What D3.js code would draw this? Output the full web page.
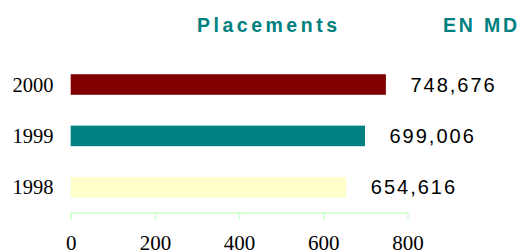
<!DOCTYPE html>
<html>
<head>
<meta charset="utf-8">
<script src="https://cdn.jsdelivr.net/npm/d3@7"></script>
<style>
  body { margin: 0; background: #fff; }
</style>
</head>
<body>
<div id="chart"></div>
<script>
var width = 519;
var height = 252;

// data (thousands)
var years = ["2000", "1999", "1998"];
var values = [748.676, 699.006, 654.616];
var valueLabels = ["748,676", "699,006", "654,616"];
var barColors = ["#800000", "#008080", "#ffffcc"];
var ticks = [0, 200, 400, 600, 800];

var x = d3.scaleLinear()
  .domain([0, 800])
  .range([70.7, 407.5]);

var y = d3.scaleBand()
  .domain(years)
  .range([43.4, 228.4])
  .padding(0.6);

var svg = d3.select("#chart")
  .append("svg")
  .attr("width", width)
  .attr("height", height);

// titles
svg.append("text")
  .attr("x", 197)
  .attr("y", 31.5)
  .attr("textLength", 140)
  .attr("lengthAdjust", "spacing")
  .attr("font-family", "Liberation Sans, Arial, sans-serif")
  .attr("font-weight", "bold")
  .attr("font-size", 19.5)
  .attr("fill", "#008080")
  .text("Placements");

svg.append("text")
  .attr("x", 443)
  .attr("y", 31.5)
  .attr("textLength", 74)
  .attr("lengthAdjust", "spacing")
  .attr("font-family", "Liberation Sans, Arial, sans-serif")
  .attr("font-weight", "bold")
  .attr("font-size", 19.5)
  .attr("fill", "#008080")
  .text("EN MD");

// bars
var rows = years.map(function(d, i) {
  return {year: d, value: values[i], label: valueLabels[i], color: barColors[i]};
});

svg.selectAll("rect.bar")
  .data(rows)
  .enter()
  .append("rect")
    .attr("class", "bar")
    .attr("x", x(0))
    .attr("y", function(d) { return y(d.year); })
    .attr("width", function(d) { return x(d.value) - x(0); })
    .attr("height", y.bandwidth())
    .attr("fill", function(d) { return d.color; });

// year labels
svg.selectAll("text.year")
  .data(rows)
  .enter()
  .append("text")
    .attr("class", "year")
    .attr("x", 53.5)
    .attr("y", function(d) { return y(d.year) + y.bandwidth() / 2; })
    .attr("dy", "0.35em")
    .attr("text-anchor", "end")
    .attr("font-family", "Liberation Serif, Times New Roman, serif")
    .attr("font-size", 20.5)
    .attr("fill", "#000")
    .text(function(d) { return d.year; });

// value labels
svg.selectAll("text.val")
  .data(rows)
  .enter()
  .append("text")
    .attr("class", "val")
    .attr("x", function(d) { return x(d.value) + 24.5; })
    .attr("y", function(d) { return y(d.year) + y.bandwidth() / 2; })
    .attr("dy", "0.36em")
    .attr("font-family", "Liberation Sans, Arial, sans-serif")
    .attr("font-size", 20)
    .attr("letter-spacing", 2)
    .attr("fill", "#000")
    .text(function(d) { return d.label; });

// x axis
var axis = svg.append("g")
  .attr("transform", "translate(0,212.5)")
  .call(d3.axisBottom(x)
    .tickValues(ticks)
    .tickSize(7)
    .tickSizeOuter(0)
    .tickPadding(15.5));

axis.select(".domain").attr("stroke", "#ccffcc").attr("stroke-width", 1.5);
axis.selectAll(".tick line").attr("stroke", "#ccffcc").attr("stroke-width", 1.5);
axis.selectAll(".tick text")
  .attr("font-family", "Liberation Serif, Times New Roman, serif")
  .attr("font-size", 21)
  .attr("fill", "#000");
</script>
</body>
</html>
